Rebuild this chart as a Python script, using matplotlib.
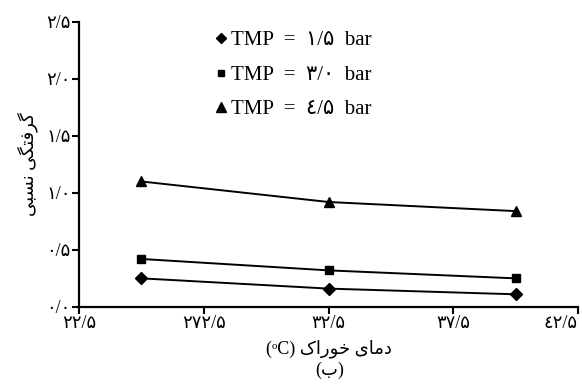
import matplotlib
matplotlib.use("Agg")
import matplotlib.pyplot as plt
from matplotlib.lines import Line2D

# Feed temperature (°C) and relative fouling for each transmembrane pressure
temperature = [25.0, 32.5, 40.0]
fouling_15 = [0.25, 0.16, 0.11]
fouling_30 = [0.42, 0.32, 0.25]
fouling_45 = [1.10, 0.92, 0.84]

series_labels = ["TMP  =  ۱/۵  bar", "TMP  =  ۳/۰  bar", "TMP  =  ٤/۵  bar"]
series_markers = ["D", "s", "^"]

x_ticks = [22.5, 27.5, 32.5, 37.5, 42.5]
x_tick_labels = ["۲۲/۵", "۲۷۲/۵", "۳۲/۵", "۳۷/۵", "٤۲/۵"]
y_ticks = [0.0, 0.5, 1.0, 1.5, 2.0, 2.5]
y_tick_labels = ["۰/۰", "۰/۵", "۱/۰", "۱/۵", "۲/۰", "۲/۵"]

# Arabic-script labels written in presentation forms, visual (left-to-right) order
y_label = "\uFBFD\uFE92\uFEB4\uFEE7 \uFBFD\uFB95\uFE98\uFED3\uFEAE\uFB94"  # گرفتگی نسبی
x_label = "(\u1D52C) \uFB8E\uFE8D\uFEAD\uFEEE\uFEA7 \uFBFC\uFE8E\uFEE3\uFEA9"  # دمای خوراک (oC)
panel_label = "(\uFE8F)"  # (ب)

families = ["Liberation Serif", "DejaVu Sans"]
plt.rcParams["font.family"] = families

fig = plt.figure(figsize=(5.82, 3.85), dpi=100)
ax = fig.add_axes([0.136, 0.203, 0.857, 0.740])

sizes = {"D": 6, "s": 6, "^": 7.5}
for vals, m in zip([fouling_15, fouling_30, fouling_45], series_markers):
    ax.plot(temperature, vals, color="black", lw=1.4, marker=m,
            markersize=sizes[m], markerfacecolor="black", markeredgecolor="black")

ax.set_xlim(22.5, 42.5)
ax.set_ylim(0, 2.5)
ax.set_xticks(x_ticks)
ax.set_xticklabels(x_tick_labels, fontsize=13, family=families)
ax.get_xticklabels()[-1].set_horizontalalignment("right")
ax.get_xticklabels()[-1].set_x(42.6)
ax.set_yticks(y_ticks)
ax.set_yticklabels(y_tick_labels, fontsize=13, family=families)

for side in ["top", "right"]:
    ax.spines[side].set_visible(False)
for side in ["left", "bottom"]:
    ax.spines[side].set_linewidth(1.6)
ax.tick_params(direction="out", length=5, width=1.5, pad=1, colors="black")

ax.set_ylabel(y_label, fontsize=13, family=families, labelpad=6)
ax.set_xlabel(x_label, fontsize=13, family=families, labelpad=5)
fig.text(0.566, 0.038, panel_label, fontsize=13, family=families, ha="center", va="center")

handles = [Line2D([], [], color="black", marker=m, linestyle="none",
                  markersize=sizes[m] - 1) for m in series_markers]
ax.legend(handles, series_labels, loc="upper left", bbox_to_anchor=(0.235, 1.035),
          frameon=False, handlelength=0.6, handletextpad=0.15, labelspacing=0.72,
          prop={"family": families, "size": 15})

fig.savefig("out.png", dpi=100)
